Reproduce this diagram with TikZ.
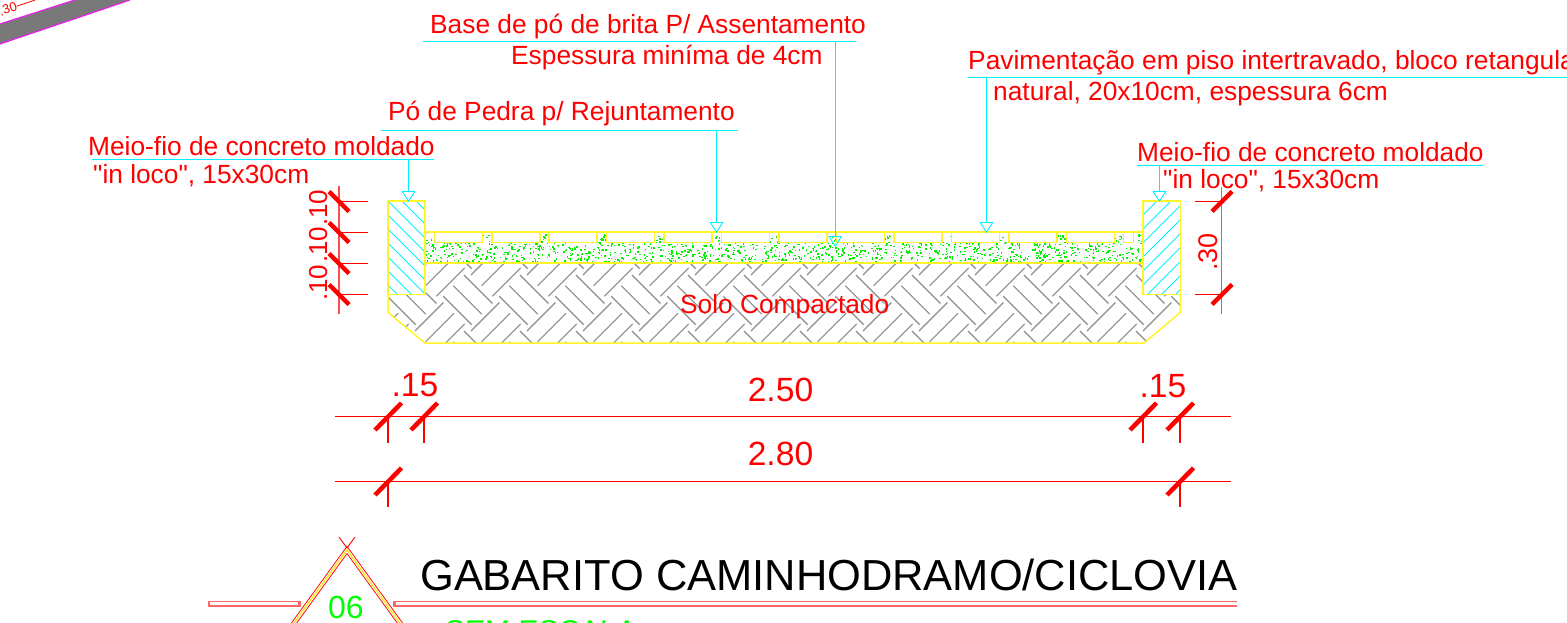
\documentclass[tikz,border=0pt]{standalone}
\usepackage{fontspec}
\setmainfont{Liberation Sans}
\newfontfamily\plainq{Liberation Sans}
\usetikzlibrary{arrows.meta}
\definecolor{cadred}{RGB}{255,0,0}
\definecolor{cadcyan}{RGB}{0,240,255}
\definecolor{cadyellow}{RGB}{255,245,40}
\definecolor{cadgreen}{RGB}{0,255,0}
\definecolor{hatchgray}{RGB}{140,140,140}
\definecolor{cadmag}{RGB}{235,30,235}
\tikzset{
  lbl/.style={text=cadred,font=\fontsize{26.3}{28}\selectfont,inner sep=0pt,anchor=base west},
  leader/.style={draw=cadcyan,line width=1.2pt},
  pointer/.style={draw=cadcyan,line width=1.2pt,-{Triangle[open,length=11pt,width=14pt,line width=.9pt]}},
  dimline/.style={draw=cadred,line width=1.2pt},
  tick/.style={draw=cadred,line width=4.5pt},
  dimtxt/.style={text=cadred,font=\fontsize{33.6}{36}\selectfont,inner sep=0pt},
  outline/.style={draw=cadyellow,line width=1.5pt},
}
\begin{document}
\begin{tikzpicture}[x=1pt,y=-1pt]
\useasboundingbox (0,0) rectangle (1567,623);
\clip (0,0) rectangle (1567,623);
% top-left fragment
\fill[gray!95!black] (0,24) -- (75,0) -- (130,0) -- (0,44) -- cycle;
\draw[cadmag,line width=1.2pt] (0,24) -- (75,0) (130,0) -- (0,44);
\node[text=cadred,font=\fontsize{13}{14}\selectfont,inner sep=0pt,rotate=18] (frag) at (8,9) {.30};
\coordinate (fragend) at (35,0);
\draw[cadred,line width=.8pt] (frag.east) -- (fragend);
% soil hatch
\begin{scope}
\clip (388,294.3) -- (388,312.5) -- (425,343) -- (1144,343) -- (1180.3,312.5) -- (1180.3,294.3) -- (1143,294.3) -- (1143,263) -- (425,263) -- (425,294.3) -- cycle;
\begin{scope}[hatchgray,line width=1.1pt]
\foreach \k in {-2,...,14}{
  \foreach \m in {-1,0,1}{
    \pgfmathsetmacro{\ox}{56*\k}
    \pgfmathsetmacro{\oy}{56*\m}
    \begin{scope}[shift={(\ox,\oy)}]
    \draw (443.3,296.3) -- ++(28.4,28.4);
    \draw (453.3,285.7) -- ++(28.4,28.4);
    \draw (464,275) -- ++(28.4,28.4);
    \draw (471,275) -- ++(28.4,-28.4);
    \draw (481.7,285.7) -- ++(28.4,-28.4);
    \draw (492.3,296.3) -- ++(28.4,-28.4);
    \end{scope}
  }
}
\end{scope}
\end{scope}
% stipple: a jittered low-discrepancy spread
\begin{scope}
\clip (425,232) rectangle (1143,263);
\pgfmathsetseed{4242}
\foreach \i in {1,...,1500}{
  \pgfmathsetmacro{\fx}{mod(\i*0.7548777+0.06*rnd,1)}
  \pgfmathsetmacro{\fy}{mod(\i*0.5698403+0.17*rnd,1)}
  \pgfmathsetmacro{\dx}{425+\fx*718}
  \pgfmathsetmacro{\dy}{234+\fy*28}
  \fill[cadgreen!95!black] (\dx,\dy) rectangle ++(1.5,1.5);
}
\end{scope}
% curbs
\begin{scope}
\clip (388,201) rectangle (425,294.3);
\foreach \i in {-7,...,9}
  \draw[cadcyan,line width=.9pt] (388,{201+\i*14}) -- ++(70,70);
\end{scope}
\begin{scope}
\clip (1143,201) rectangle (1180.3,294.3);
\foreach \i in {-2,...,12}
  \draw[cadcyan,line width=.9pt] (1143,{201+\i*14}) -- ++(70,-70);
\end{scope}
% outlines
\draw[outline] (388,201) rectangle (425,294.3);
\draw[outline] (1143,201) rectangle (1180.3,294.3);
\draw[outline] (388,294.3) -- (388,312.5) -- (425,343) -- (1144,343) -- (1180.3,312.5) -- (1180.3,294.3);
\draw[outline] (425,232) -- (1143,232) (425,263) -- (1143,263);
\foreach \i in {0,...,11}
  \draw[outline,fill=white] ({434.3+57.47*\i},232) rectangle ++(48,10.3);
\draw[outline,fill=white] (1123.3,232) rectangle (1133.3,242.3);
% leaders and labels
\node[lbl] (baselbl) at (430,33.5) {Base de pó de brita P/ Assentamento};
\node[lbl] (esplbl) at (511,64.5) {Espessura miníma de 4cm};
\coordinate (bl1) at (423,41.3); \coordinate (bl2) at (856,41.3);
\draw[leader] (bl1) -- (bl2);
\coordinate (bt) at (835.2,41.3); \coordinate (bh) at (835.2,247);
\draw[pointer] (bt) -- (bh);
\node[lbl] (polbl) at (388,121) {Pó de Pedra p/ Rejuntamento};
\coordinate (pl1) at (381,130.5); \coordinate (pl2) at (738,130.5);
\draw[leader] (pl1) -- (pl2);
\coordinate (pt) at (716.5,130.5); \coordinate (ph) at (716.5,233);
\draw[pointer] (pt) -- (ph);
\node[lbl] (mflbl) at (88,156) {Meio-fio de concreto moldado};
\node[lbl] (mfb) at (93,184) {{\plainq"}in loco{\plainq"}, 15x30cm};
\coordinate (ml1) at (92,159.3); \coordinate (ml2) at (434,159.3);
\draw[leader] (ml1) -- (ml2);
\coordinate (mt) at (408.5,159.3); \coordinate (mh) at (408.5,202);
\draw[pointer] (mt) -- (mh);
\node[lbl] (mrlbl) at (1137,162) {Meio-fio de concreto moldado};
\node[lbl] (mrb) at (1163,188.5) {{\plainq"}in loco{\plainq"}, 15x30cm};
\coordinate (rl1) at (1137,165.3); \coordinate (rl2) at (1483,165.3);
\draw[leader] (rl1) -- (rl2);
\coordinate (rt) at (1159.5,165.3); \coordinate (rh) at (1159.5,202);
\draw[pointer] (rt) -- (rh);
\node[lbl] (pvlbl) at (968,70) {Pavimentação em piso intertravado, bloco retangular};
\node[lbl] (pvb) at (993,101) {natural, 20x10cm, espessura 6cm};
\coordinate (vl1) at (968,77.3); \coordinate (vl2) at (1567,77.3);
\draw[leader] (vl1) -- (vl2);
\coordinate (vt) at (986.5,77.3); \coordinate (vh) at (986.5,233);
\draw[pointer] (vt) -- (vh);
\node[lbl] (solo) at (680,313) {Solo Compactado};
% left dimension
\coordinate (lv1) at (339,186); \coordinate (lv2) at (339,314);
\draw[dimline,draw=cadred!70] (lv1) -- (lv2);
\foreach \y in {201.5,232.5,263.5,294.5}{
  \draw[dimline] (339,\y) -- (368,\y);
  \draw[tick] (329,\y-10) -- (349,\y+10);
}
\node[text=cadred,font=\fontsize{26}{28}\selectfont,inner sep=0pt,rotate=90,anchor=base west] (l3) at (327,301) {.10};
\node[text=cadred,font=\fontsize{26}{28}\selectfont,inner sep=0pt,rotate=90,anchor=base west] (l2) at (327,263) {.10};
\node[text=cadred,font=\fontsize{26}{28}\selectfont,inner sep=0pt,rotate=90,anchor=base west] (l1) at (327,226) {.10};
% right dimension
\coordinate (rv1) at (1221.7,187); \coordinate (rv2) at (1221.7,314);
\draw[dimline,draw=cadred!70] (rv1) -- (rv2);
\foreach \y in {201.5,294.5}{
  \draw[dimline] (1195,\y) -- (1221.7,\y);
  \draw[tick] (1212,\y+10) -- (1232,\y-10);
}
\node[text=cadred,font=\fontsize{27}{28}\selectfont,inner sep=0pt,rotate=90] (r1) at (1208,252) {.30};
% bottom dimensions
\coordinate (d1a) at (335,416.5); \coordinate (d1b) at (1231,416.5);
\coordinate (d2a) at (335,481.5); \coordinate (d2b) at (1231,481.5);
\draw[dimline] (d1a) -- (d1b);
\draw[dimline] (d2a) -- (d2b);
\foreach \x in {388,424,1143,1180}{
  \draw[dimline] (\x,416) -- (\x,443);
  \draw[tick] (\x-13,430) -- (\x+13.5,403);
}
\foreach \x in {388,1180}{
  \draw[dimline] (\x,481) -- (\x,507);
  \draw[tick] (\x-13,495) -- (\x+13.5,468);
}
\node[dimtxt] (d15a) at (415,385) {.15};
\node[dimtxt] (d250) at (780.5,390) {2.50};
\node[dimtxt] (d15b) at (1163,386) {.15};
\node[dimtxt] (d280) at (780.5,454) {2.80};
% title block
\draw[cadred!60,line width=6pt] (393,603.5) -- (1237,603.5);
\draw[white,line width=2.4pt] (396,603.5) -- (1237,603.5);
\draw[cadred!60,line width=6pt] (208,603.5) -- (301,603.5);
\draw[white,line width=2.4pt] (210,603.5) -- (298,603.5);
\draw[cadred,line width=5pt,line join=miter] (289,630) -- (347,550) -- (405,630);
\draw[white,line width=3.2pt,line join=miter] (289,630) -- (347,550) -- (405,630);
\draw[cadyellow!90!orange,line width=1.4pt,line join=miter] (289,630) -- (347,550) -- (405,630);
\draw[cadred,line width=.9pt] (339,537) -- (347,548) -- (355,537);
\node[text=black,font=\fontsize{43.45}{46}\selectfont,inner sep=0pt,anchor=base west] (title) at (420,590) {GABARITO CAMINHODRAMO/CICLOVIA};
\node[text=cadgreen,font=\fontsize{32}{34}\selectfont,inner sep=0pt] (six) at (346,607) {06};
\node[text=cadgreen,font=\fontsize{30}{32}\selectfont,inner sep=0pt,anchor=base west] (esc) at (445,641) {SEM ESCALA};
\end{tikzpicture}
\end{document}
